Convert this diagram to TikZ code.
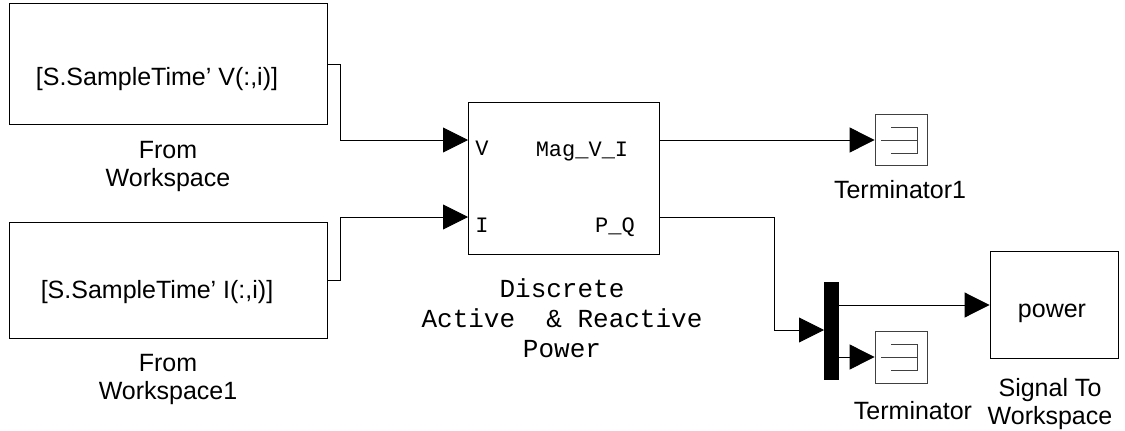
\documentclass[tikz,border=0pt]{standalone}
\usepackage{fontspec}
\setmainfont{Liberation Sans}
\newfontfamily\monofam{Liberation Mono}
\usetikzlibrary{arrows.meta,calc}
\begin{document}
\begin{tikzpicture}[x=1pt,y=-1pt,
  blk/.style={draw,line width=0.9pt,inner sep=0pt},
  sig/.style={line width=0.9pt,-{Triangle[length=25pt,width=25pt]}},
  wire/.style={line width=0.9pt},
  lbl/.style={align=center,inner sep=0pt,font=\fontsize{25}{28}\selectfont},
  mlbl/.style={align=center,inner sep=0pt,font=\monofam\fontsize{26}{30}\selectfont},
  plbl/.style={inner sep=0pt,font=\monofam\fontsize{22}{26}\selectfont},
  term/.style={draw,black!75,line width=0.8pt,minimum width=52pt,minimum height=51pt,inner sep=0pt}]
\useasboundingbox (0,0) rectangle (1125,431);

% From Workspace blocks
\node[blk,minimum width=318pt,minimum height=121pt] (fw1) at (168,64) {};
\node[lbl] (fw1t) at (157,79) {[S.SampleTime' V(:,i)]};
\node[lbl] (fw1l) at (168,166) {From\\Workspace};
\node[blk,minimum width=318pt,minimum height=116pt] (fw2) at (168,280) {};
\node[lbl] (fw2t) at (157,292) {[S.SampleTime' I(:,i)]};
\node[lbl] (fw2l) at (168,379) {From\\Workspace1};

% Discrete Active & Reactive Power
\node[blk,minimum width=191pt,minimum height=152pt] (dpq) at (563.5,178) {};
\coordinate (pV) at (468,140);
\coordinate (pI) at (468,217);
\coordinate (oM) at (659,140);
\coordinate (oP) at (659,217);
\node[plbl] (lV) at (482,148) {V};
\node[plbl] (lI) at (482,225) {I};
\node[plbl] (lM) at (582,152) {Mag\_V\_I};
\node[plbl] (lP) at (615,227) {P\_Q};
\node[mlbl] (dpql) at (562,318) {Discrete\\Active\ \ \& Reactive\\Power};

% Terminators
\node[term] (t1) at (901,140) {};
\node[lbl] (t1l) at (900,190) {Terminator1};
\node[term,minimum height=52pt] (t2) at (901,357) {};
\node[lbl] (t2l) at (913,411) {Terminator};
\foreach \t in {t1,t2}{
  \draw[black!75,line width=0.8pt] ($(\t.center)+(-20,0)$) -- ($(\t.center)+(16,0)$);
  \draw[black!75,line width=0.8pt] ($(\t.center)+(-10,-13)$) -- ($(\t.center)+(16,-13)$) -- ($(\t.center)+(16,13)$) -- ($(\t.center)+(-10,13)$);
}

% Demux
\node[draw,fill=black,minimum width=14pt,minimum height=97pt,inner sep=0pt] (dmx) at (831,330.5) {};
\coordinate (dmxIn) at (824,330);
\coordinate (dmxO1) at (838,305);
\coordinate (dmxO2) at (838,357);

% Signal To Workspace
\node[blk,minimum width=128pt,minimum height=107pt] (stw) at (1054,305) {};
\node[lbl] (stwt) at (1052,313) {power};
\node[lbl] (stwl) at (1050,404) {Signal To\\Workspace};

% connectors
\draw[sig] (fw1.east) -- ++(13,0) |- (pV);
\draw[sig] (fw2.east) -- ++(13,0) |- (pI);
\draw[sig] (oM) -- (t1.west);
\draw[sig] (oP) -- (774,217) |- (dmxIn);
\draw[sig] (dmxO1) -- (stw.west);
\draw[sig] (dmxO2) -- (t2.west);
\end{tikzpicture}
\end{document}
